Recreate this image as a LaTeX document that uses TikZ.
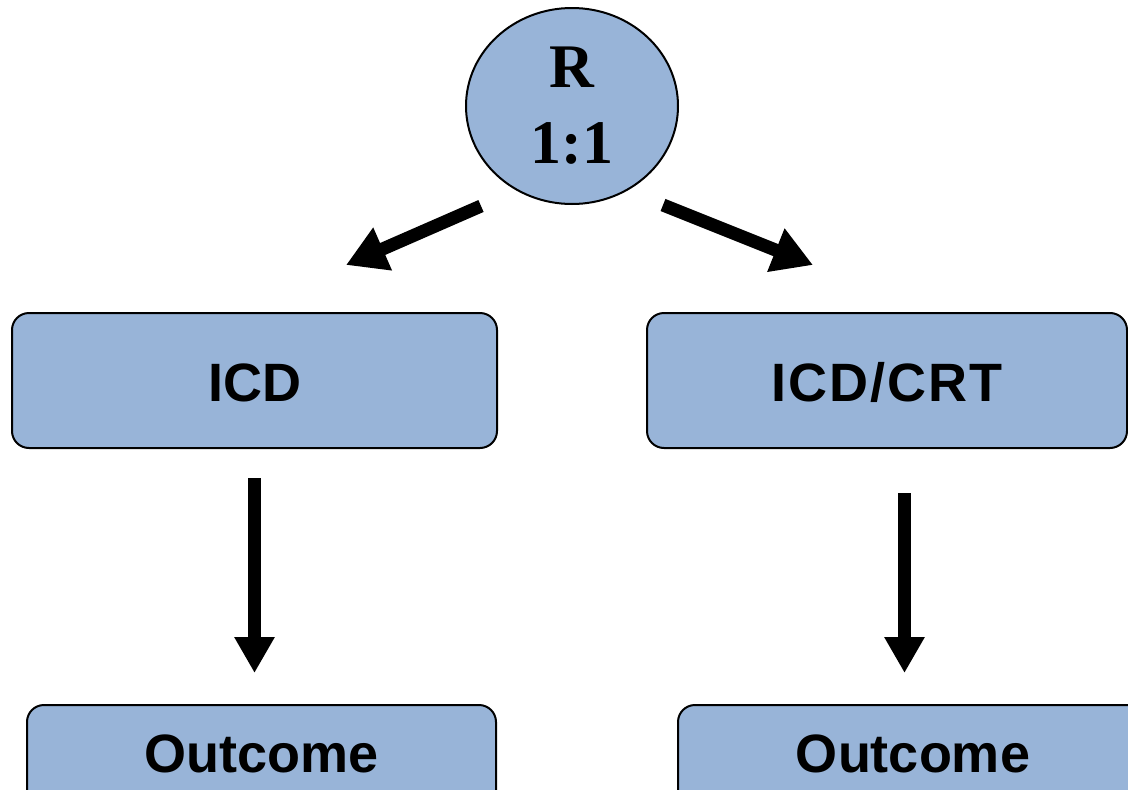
\documentclass[tikz,border=0pt]{standalone}
\usepackage{fontspec}
\setmainfont{Liberation Serif}
\newfontfamily\boxfont{Liberation Sans}
\usetikzlibrary{arrows.meta,shapes.geometric}
\definecolor{boxblue}{RGB}{152,180,216}
\begin{document}
\begin{tikzpicture}[x=1pt,y=-1pt,
  panel/.style={draw=black,line width=2pt,fill=boxblue,rounded corners=17pt,
    inner xsep=0pt,inner ysep=0pt,font=\boxfont\bfseries\fontsize{54}{64}\selectfont},
  bigarrow/.style={line width=13pt,-{Triangle[length=36pt,width=38pt]}},
  slantarrow/.style={line width=13pt,-{Triangle[length=40pt,width=44pt]}}]
\useasboundingbox (0,0) rectangle (1128,790);
\clip (0,0) rectangle (1128,790);

% randomisation node
\node[ellipse,draw=black,line width=2pt,fill=boxblue,minimum width=212pt,
  minimum height=196pt,inner sep=0pt,align=center,
  font=\bfseries\fontsize{62}{76}\selectfont] (R) at (572,106) {R\\1:1};

% treatment arms
\node[panel,minimum width=485pt,text height=88pt,text depth=47pt,anchor=north]
  (ICD) at (254.5,312) {ICD};
\node[panel,minimum width=480pt,text height=88pt,text depth=47pt,anchor=north]
  (CRT) at (887,312) {\addfontfeatures{LetterSpace=4}ICD/CRT};

% outcome boxes
\node[panel,minimum width=469pt,text height=67pt,text depth=59pt,anchor=north]
  (O1) at (261.5,704) {Outcome};
\node[panel,minimum width=470pt,text height=67pt,text depth=59pt,anchor=north]
  (O2) at (913,704) {Outcome};

% arrow end points
\coordinate (r1) at (481,206);
\coordinate (r1t) at (346,265);
\coordinate (r2) at (663,205);
\coordinate (r2t) at (813,265);
\coordinate (d1) at (254.5,478);
\coordinate (d1t) at (254.5,673);
\coordinate (d2) at (904.5,493);
\coordinate (d2t) at (904.5,673);

\draw[slantarrow] (r1) -- (r1t);
\draw[slantarrow] (r2) -- (r2t);
\draw[bigarrow] (d1) -- (d1t);
\draw[bigarrow] (d2) -- (d2t);
\end{tikzpicture}
\end{document}
